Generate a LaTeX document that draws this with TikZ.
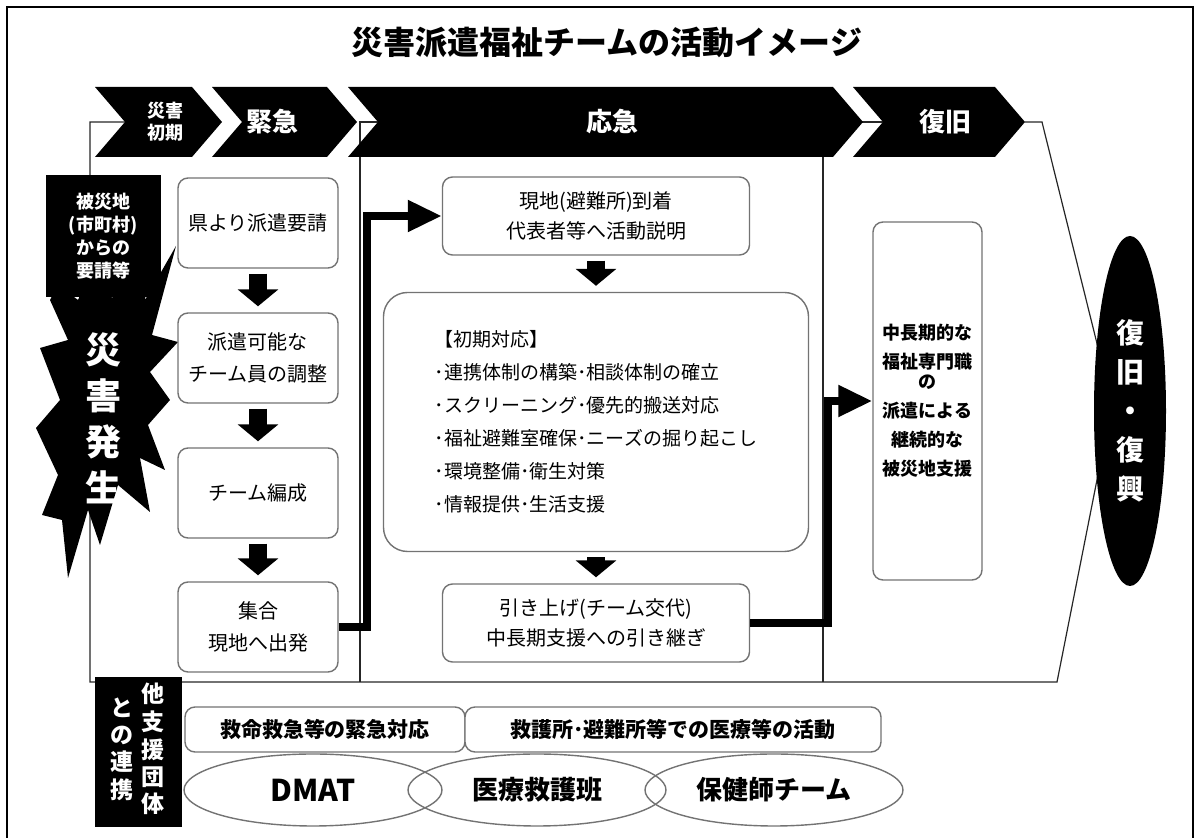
\documentclass[tikz,border=0pt]{standalone}
\usepackage{fontspec}
\setmainfont{Noto Sans CJK JP}
\usetikzlibrary{arrows.meta,shapes.geometric,positioning}

\begin{document}
\begin{tikzpicture}[x=0.5pt, y=-0.5pt,
    stepbox/.style={draw=black!55, line width=0.7pt, rounded corners=5pt, fill=white, align=center, inner sep=0pt, font=\fontsize{10}{16}\selectfont},
    colbox/.style={stepbox, minimum width=80pt, minimum height=45pt},
    midbox/.style={stepbox, minimum width=153.5pt, minimum height=39pt, font=\fontsize{10}{15}\selectfont},
    stage/.style={fill=black},
    stagelabel/.style={text=white, align=center, font=\bfseries\fontsize{13}{15}\selectfont},
    darkbox/.style={fill=black, text=white, inner sep=0pt, align=center, font=\bfseries\fontsize{9}{11.5}\selectfont},
    team/.style={draw=black!55, line width=0.7pt, ellipse, minimum width=129pt, minimum height=36pt, inner sep=0pt, font=\bfseries\fontsize{13}{15}\selectfont},
    blockdown/.style={-{Triangle[length=8.5pt, width=20pt]}, line width=9pt, shorten <=2.5pt, shorten >=3pt},
    link/.style={-{Triangle[length=17pt, width=15pt]}, line width=4pt},
    thinline/.style={line width=0.6pt, black!85}
]
\useasboundingbox (0,0) rectangle (1196,838);
\draw[line width=1.2pt] (7,838) -- (7,7) -- (1193,7) -- (1193,838);

\node[font=\bfseries\fontsize{16}{19}\selectfont] (title) at (607,42) {災害派遣福祉チームの活動イメージ};

\draw[thinline] (125,122) -| (90,682) -- (1057,682) -- (1112,404) -- (1042,122) -- (1025,122);
\draw[thinline] (378,122) -| (360,682);
\draw[thinline] (883,122) -| (823,682);

\foreach \l/\r in {95/192, 212/327, 348/833, 853/995}
  \fill[stage] (\l,87) -- (\r,87) -- (\r+30,122) -- (\r,157) -- (\l,157) -- (\l+30,122) -- cycle;
\node[stagelabel, font=\bfseries\fontsize{9}{11}\selectfont] (s1) at (165,122) {災害\\初期};
\node[stagelabel] (s2) at (272,122) {緊急};
\node[stagelabel] (s3) at (612,122) {応急};
\node[stagelabel] (s4) at (945,122) {復旧};

\fill (58,285) -- (78,300) -- (95,262) -- (112,298) -- (150,250) -- (145,300) -- (176,246) -- (152,335) -- (178,342) -- (150,372) -- (170,400) -- (148,425) -- (165,470) -- (140,458) -- (150,512) -- (118,485) -- (100,545) -- (88,510) -- (68,578) -- (62,520) -- (42,515) -- (58,475) -- (36,428) -- (60,400) -- (40,348) -- (68,340) -- (50,300) -- cycle;
\node[text=white, align=center, font=\bfseries\fontsize{18}{23}\selectfont] (boom) at (103,418) {災\\害\\発\\生};
\node[darkbox, minimum width=57.5pt, minimum height=61pt] (request) at (103,236) {被災地\\(市町村)\\からの\\要請等};

\node[colbox] (ask) at (258,223) {県より派遣要請};
\node[colbox] (adjust) at (258,358) {派遣可能な\\チーム員の調整};
\node[colbox] (form) at (258,493) {チーム編成};
\node[colbox] (depart) at (258,627) {集合\\現地へ出発};
\draw[blockdown] (ask) -- (adjust);
\draw[blockdown] (adjust) -- (form);
\draw[blockdown] (form) -- (depart);

\node[midbox] (arrive) at (596,216) {現地(避難所)到着\\代表者等へ活動説明};
\node[stepbox, rounded corners=12pt, minimum width=212.5pt, minimum height=129.5pt, align=left, font=\fontsize{9.5}{16.5}\selectfont] (initial) at (596,422) {【初期対応】\\･連携体制の構築･相談体制の確立\\･スクリーニング･優先的搬送対応\\･福祉避難室確保･ニーズの掘り起こし\\･環境整備･衛生対策\\･情報提供･生活支援};
\node[midbox] (handover) at (596,623) {引き上げ(チーム交代)\\中長期支援への引き継ぎ};
\draw[blockdown] (arrive) -- (initial);
\draw[blockdown] (initial) -- (handover);

\node[stepbox, minimum width=54.5pt, minimum height=179pt, font=\bfseries\fontsize{9}{14.5}\selectfont] (longterm) at (927.5,401) {中長期的な\\福祉専門職\\[-4.5pt]の\\派遣による\\継続的な\\被災地支援};

\draw[link] (depart.east) -- ++(28,0) |- (arrive.west);
\draw[link] (handover.east) -- ++(78,0) |- (longterm.west);

\node[ellipse, fill=black, text=white, minimum width=36pt, minimum height=175pt, inner sep=0pt, align=center, font=\bfseries\fontsize{14}{19.5}\selectfont] (recovery) at (1130,411) {復\\旧\\・\\復\\興};

\node[darkbox, minimum width=43.5pt, minimum height=75pt, font=\bfseries\fontsize{11.5}{13.5}\selectfont] (partners) at (138,752) {\begin{tabular}[c]{@{}c@{}}と\\の\\連\\携\end{tabular}\hspace{4pt}\begin{tabular}[c]{@{}c@{}}他\\支\\援\\団\\体\end{tabular}};

\node[team] (dmat) at (313,790) {};
\node[team] (medteam) at (537,790) {};
\node[team] (nurse) at (774,790) {};
\node[font=\bfseries\fontsize{15}{17}\selectfont] (dmatlabel) at (dmat) {DMAT};
\node[font=\bfseries\fontsize{13}{15}\selectfont] (medlabel) at (medteam) {医療救護班};
\node[font=\bfseries\fontsize{13}{15}\selectfont] (nurselabel) at (nurse) {保健師チーム};

\node[stepbox, minimum width=140pt, minimum height=22.5pt, font=\bfseries\fontsize{10.5}{12}\selectfont] (rescue) at (325,729.5) {救命救急等の緊急対応};
\node[stepbox, minimum width=208pt, minimum height=22.5pt, font=\bfseries\fontsize{10.5}{12}\selectfont] (medical) at (673,729.5) {救護所･避難所等での医療等の活動};
\end{tikzpicture}
\end{document}
